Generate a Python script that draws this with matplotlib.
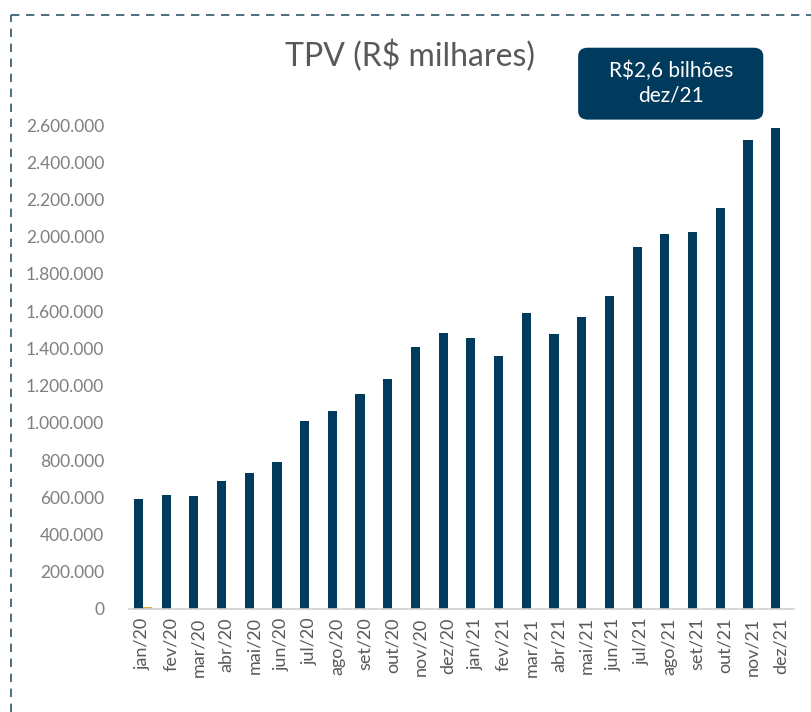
import matplotlib
matplotlib.use('Agg')
import matplotlib.pyplot as plt
import matplotlib.ticker as mticker
from matplotlib.patches import FancyBboxPatch
from matplotlib.lines import Line2D
import numpy as np

# ── Data (R$ thousands) ───────────────────────────────────────────────────────
months = ['jan/20', 'fev/20', 'mar/20', 'abr/20', 'mai/20', 'jun/20',
          'jul/20', 'ago/20', 'set/20', 'out/20', 'nov/20', 'dez/20',
          'jan/21', 'fev/21', 'mar/21', 'abr/21', 'mai/21', 'jun/21',
          'jul/21', 'ago/21', 'set/21', 'out/21', 'nov/21', 'dez/21']
tpv = [590000, 612000, 607000, 688000, 730000, 790000,
       1010000, 1063000, 1155000, 1235000, 1407000, 1483000,
       1456000, 1359000, 1590000, 1477000, 1569000, 1681000,
       1945000, 2015000, 2025000, 2154000, 2520000, 2584000]
other = [9000] + [0] * 23
yticks = list(range(0, 2600001, 200000))

NAVY = '#003A5C'
ORANGE = '#F2A93B'
GREY = '#595959'

fig = plt.figure(figsize=(8.12, 7.12), dpi=100)
ax = fig.add_axes([0.159, 0.1447, 0.819, 0.6797])

x = np.arange(len(months))
w = 0.33
ax.bar(x - w / 2, tpv, width=w, color=NAVY)
ax.bar(x + w / 2, other, width=w, color=ORANGE)

ax.set_xlim(-0.5, len(months) - 0.5)
ax.set_ylim(0, 2600000)
ax.set_yticks(yticks)
ax.yaxis.set_major_formatter(mticker.FuncFormatter(lambda v, p: f"{int(v):,}".replace(',', '.')))
ax.set_xticks(x)
ax.set_xticklabels(months, rotation=90)
ax.tick_params(axis='y', length=0, labelsize=12.5, labelcolor='#7F7F7F', pad=18)
ax.tick_params(axis='x', length=0, labelsize=13, labelcolor=GREY, pad=6)
for lab in ax.get_xticklabels() + ax.get_yticklabels():
    lab.set_family('Lato')

for s in ['top', 'right', 'left']:
    ax.spines[s].set_visible(False)
ax.spines['bottom'].set_color('#D0D0D0')
ax.spines['bottom'].set_linewidth(1.2)

fig.text(0.505, 0.922, 'TPV (R$ milhares)', ha='center', va='center',
         fontsize=23, color=GREY, family='Lato')

# callout box
box = FancyBboxPatch((0.712 + 0.012, 0.832 + 0.012), 0.228 - 0.024, 0.101 - 0.024,
                     boxstyle='round,pad=0.012', transform=fig.transFigure,
                     facecolor=NAVY, edgecolor='none')
fig.patches.append(box)
fig.text(0.826, 0.883, 'R$2,6 bilhões\ndez/21', ha='center', va='center',
         fontsize=15, color='white', family='Lato', linespacing=1.3)

# dashed frame
dash = dict(color='#2E5566', linewidth=1.2, linestyle=(0, (5, 4)), transform=fig.transFigure)
fig.lines.append(Line2D([0.013, 1.0], [0.979, 0.979], **dash))
fig.lines.append(Line2D([0.013, 0.013], [0.0, 0.979], **dash))

plt.savefig('out.png', dpi=100)
